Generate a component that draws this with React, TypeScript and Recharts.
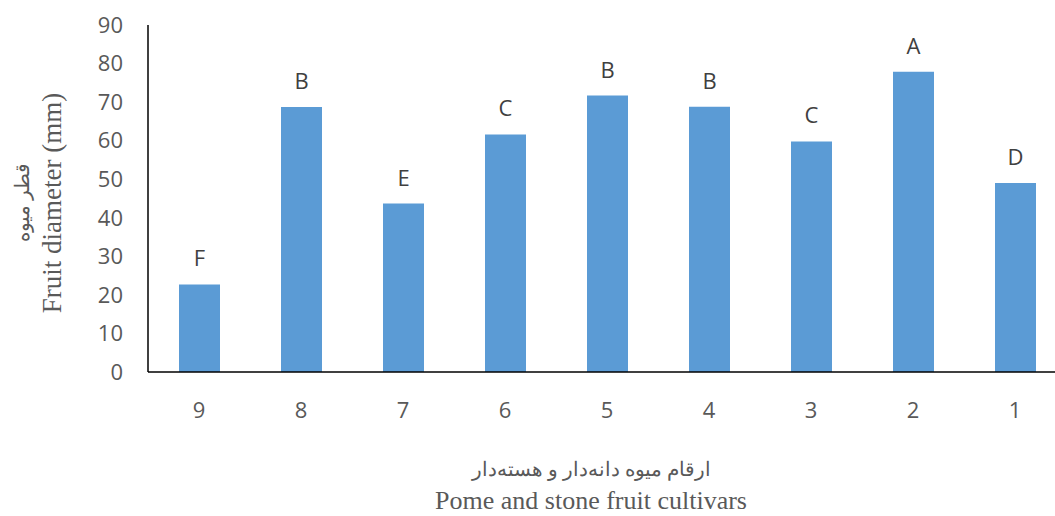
import { BarChart, Bar, XAxis, YAxis, LabelList, Label } from 'recharts';

const cultivars = ['9', '8', '7', '6', '5', '4', '3', '2', '1'];
const diameters = [22.7, 68.7, 43.7, 61.6, 71.7, 68.8, 59.8, 77.9, 49.0];
const groups = ['F', 'B', 'E', 'C', 'B', 'B', 'C', 'A', 'D'];
const yTicks = [0, 10, 20, 30, 40, 50, 60, 70, 80, 90];

const data = cultivars.map((c, i) => ({ cultivar: c, diameter: diameters[i], group: groups[i] }));

const tickFont = '"Open Sans", "Noto Sans", sans-serif';
const titleFont = '"Liberation Serif", "DejaVu Serif", serif';

function XTitle() {
  return (
    <g>
      <text x={591} y={476} textAnchor="middle" fontFamily={titleFont} fontSize={20} fill="#595959" direction="rtl">
        ارقام میوه دانه‌دار و هسته‌دار
      </text>
      <text x={591} y={509} textAnchor="middle" fontFamily={titleFont} fontSize={26} fill="#595959">
        Pome and stone fruit cultivars
      </text>
    </g>
  );
}

function YTitle() {
  return (
    <g>
      <text x={0} y={0} transform="translate(29,202) rotate(-90)" textAnchor="middle" fontFamily={titleFont} fontSize={20} fill="#595959" direction="rtl">
        قطر میوه
      </text>
      <text x={0} y={0} transform="translate(61,203) rotate(-90)" textAnchor="middle" fontFamily={titleFont} fontSize={27} fill="#595959">
        Fruit diameter (mm)
      </text>
    </g>
  );
}

export default function App() {
  return (
    <div style={{ position: 'absolute', left: 0, top: 0, width: 1055, height: 516, overflow: 'hidden', background: '#fff' }}>
      <BarChart width={1066} height={516} data={data} margin={{ top: 25, right: 0, bottom: 0, left: 0 }}>
        <YAxis
          width={148}
          domain={[0, 90]}
          ticks={yTicks}
          tickLine={false}
          tickMargin={19}
          axisLine={{ stroke: '#000', strokeWidth: 1.5 }}
          tick={{ fill: '#595959', fontSize: 22, fontFamily: tickFont }}
        >
          <Label content={<YTitle />} />
        </YAxis>
        <XAxis
          dataKey="cultivar"
          height={144}
          tickLine={false}
          tickMargin={24}
          axisLine={{ stroke: '#000', strokeWidth: 1.5 }}
          tick={{ fill: '#595959', fontSize: 22, fontFamily: tickFont }}
        >
          <Label content={<XTitle />} />
        </XAxis>
        <Bar dataKey="diameter" fill="#5B9BD5" barSize={41} isAnimationActive={false}>
          <LabelList dataKey="group" position="top" offset={18} fill="#404040" fontSize={22} fontFamily={tickFont} />
        </Bar>
      </BarChart>
    </div>
  );
}
